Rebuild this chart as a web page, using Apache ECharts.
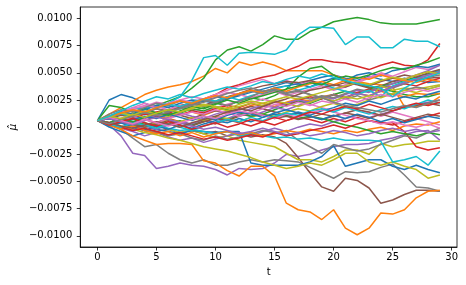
<!DOCTYPE html>
<html>
<head>
<meta charset="utf-8">
<script src="https://cdn.jsdelivr.net/npm/echarts@6/dist/echarts.min.js"></script>
<style>
html,body{margin:0;padding:0;background:#fff;}
#chart{width:466px;height:285px;}
</style>
</head>
<body>
<div id="chart"></div>
<script>
// time steps
const t = Array.from({length: 30}, (_, i) => i);
// values in units of 1e-4
const SCALE = 1e-4;
const s00 = [6,25,30,27,22,18,20,17,21,24,22,26,29,32,35,38,41,39,43,46,48,45,43,47,44,42,45,43,41,42];
const s01 = [6,12,18,24,30,34,37,39,42,47,54,50,60,57,60,57,52,52,52,52,48,44,42,40,39,37,19,19,21,28];
const s02 = [6,10,14,12,18,20,24,28,36,45,62,71,74,70,76,84,81,81,88,92,97,99,101,99,96,95,95,95,97,99];
const s03 = [6,4,8,10,12,14,16,20,22,26,30,36,39,43,46,48,52,56,62,62,60,59,56,53,57,60,57,56,62,77];
const s04 = [6,2,-8,-24,-26,-38,-36,-33,-35,-36,-39,-44,-38,-39,-38,-33,-25,-27,-25,-21,-18,-16,-16,-15,-12,-10,-7,-4,-3,-12];
const s05 = [6,4,0,2,-2,-4,-2,-5,-3,-6,-4,-8,-6,-9,-7,-9,-15,-28,-42,-55,-59,-47,-49,-56,-70,-67,-62,-58,-58,-59];
const s06 = [6,8,12,16,19,23,21,25,28,26,30,34,38,41,44,40,43,39,42,38,35,39,42,46,50,47,51,55,53,58];
const s07 = [6,3,-2,-10,-18,-16,-24,-30,-33,-30,-35,-35,-32,-30,-32,-30,-31,-32,-37,-42,-47,-41,-42,-41,-37,-34,-44,-55,-56,-59];
const s08 = [6,8,5,3,0,2,-2,-5,-3,-6,-10,-8,-12,-14,-16,-18,-24,-30,-30,-32,-27,-21,-21,-25,-15,-18,-16,-15,-13,-13];
const s09 = [6,8,14,18,17,20,22,28,43,64,66,57,68,69,68,67,71,85,92,92,91,76,83,83,73,73,81,79,79,74];
const s10 = [6,0,-4,-8,-5,-2,-4,-6,-3,-4,-5,-4,-4,-33,-35,-35,-35,-35,-32,-27,-17,-36,-33,-30,-30,-36,-39,-35,-39,-42];
const s11 = [6,2,-2,-8,-12,-16,-15,-15,-16,-31,-33,-40,-45,-36,-36,-45,-70,-76,-78,-85,-76,-93,-99,-93,-79,-80,-76,-65,-59,-58];
const s12 = [6,20,18,14,17,13,16,19,15,18,22,20,24,27,25,29,35,46,54,56,48,42,40,37,35,33,30,28,28,31];
const s13 = [6,9,6,10,7,4,8,5,2,6,3,7,4,1,5,2,6,9,7,4,8,5,9,6,4,4,-4,-18,-21,-19];
const s14 = [6,3,-1,-4,-8,-5,-9,-12,-10,-14,-11,-8,-5,-8,-4,-1,-4,0,3,1,5,8,11,9,12,15,18,21,23,25];
const s15 = [6,9,12,10,14,17,15,19,22,20,24,28,31,35,38,40,42,41,43,40,38,41,39,36,38,42,44,43,45,46];
const s16 = [6,10,14,18,22,19,16,20,17,14,18,21,24,22,26,23,20,24,21,18,15,19,16,13,10,14,11,8,5,2];
const s17 = [6,2,4,0,-3,-5,-8,-6,-10,-12,-8,-11,-9,-6,-3,-5,-4,-12,-18,-24,-16,-19,-22,-20,-16,-12,-8,-10,-5,-1];
const s18 = [6,4,1,-2,-5,-7,-10,-12,-15,-18,-20,-22,-25,-28,-32,-35,-38,-36,-33,-35,-30,-24,-24,-32,-35,-32,-36,-39,-47,-44];
const s19 = [6,8,5,4,1,2,-1,-3,-2,-4,-6,-4,-8,-6,-8,-10,-9,-11,-10,-12,-10,-12,-12,-12,-13,-32,-30,-27,-35,-22];
const s20 = [6,10,14,12,16,20,18,22,25,24,28,26,30,34,32,36,38,40,37,42,45,43,48,50,47,52,54,56,55,58];
const s21 = [6,3,7,9,6,10,8,12,14,11,15,18,16,20,22,19,23,26,24,28,30,27,31,29,33,30,28,31,30,31];
const s22 = [6,2,5,1,4,0,3,6,2,5,9,7,11,14,12,16,20,24,22,26,30,33,31,35,38,40,43,46,49,52];
const s23 = [6,9,5,8,12,10,14,11,15,13,17,20,18,22,19,24,21,25,28,26,30,27,32,35,33,37,40,38,42,45];
const s24 = [6,4,0,-3,1,-2,2,5,3,7,4,8,12,10,14,18,16,20,24,28,26,30,34,32,36,40,44,48,52,57];
const s25 = [6,8,11,9,6,10,13,11,8,12,15,13,16,19,17,14,11,13,10,7,10,13,11,8,12,9,6,9,12,10];
const s26 = [6,10,13,17,20,18,22,25,23,26,28,32,30,27,30,33,29,32,35,38,34,37,41,45,49,46,44,48,47,50];
const s27 = [6,12,16,14,18,22,20,24,21,25,23,27,30,33,31,34,30,28,26,29,27,31,35,33,38,36,40,44,46,48];
const s28 = [6,2,-1,3,0,4,7,5,9,6,10,8,5,9,12,10,14,17,15,19,22,18,21,25,38,34,36,35,37,39];
const s29 = [6,9,12,10,14,18,21,19,23,26,24,28,25,29,32,35,38,34,37,40,36,33,30,34,28,38,42,45,48,52];
const s30 = [6,1,4,0,-3,1,-2,2,-1,3,6,4,8,5,9,12,10,14,11,15,18,22,20,24,21,25,28,26,30,33];
const s31 = [6,2,-2,1,-3,-6,-4,-8,-5,-9,-6,-4,-7,-5,-8,-6,-3,-5,-2,-4,-6,-3,-5,-2,0,-3,1,3,2,5];
const s32 = [6,10,7,11,14,12,16,13,17,15,19,16,13,10,12,9,11,8,10,8,5,2,0,-3,-6,-4,-6,-8,-5,-7];
const s33 = [6,3,0,-3,-1,-4,-7,-5,-8,-11,-9,-12,-10,-7,-9,-5,-8,-6,-3,-1,2,-1,3,6,4,2,5,8,10,13];
const s34 = [6,9,7,4,8,11,9,13,10,8,12,15,13,17,20,18,22,25,23,27,24,28,31,29,33,37,41,44,48,51];
const s35 = [6,4,7,3,0,3,6,4,1,5,8,6,10,13,11,8,10,7,9,12,10,13,16,14,11,15,18,20,22,20];
const s36 = [6,3,6,10,7,4,8,11,14,12,16,13,10,14,11,8,12,9,13,16,14,11,8,6,3,5,2,0,3,-1];
const s37 = [6,9,12,15,13,17,14,18,21,19,23,20,24,28,33,35,32,34,30,27,30,26,29,25,28,31,34,37,35,38];
const s38 = [6,9,13,11,15,12,10,14,17,20,18,15,19,22,20,24,22,19,23,27,24,28,26,29,27,31,34,32,35,38];
const s39 = [6,3,0,4,2,-1,3,0,-3,1,4,7,5,9,6,10,13,11,15,17,14,18,15,12,16,19,17,21,25,22];
const s40 = [6,8,4,7,10,8,12,9,6,10,7,11,14,12,9,13,16,13,10,7,11,8,12,9,5,8,4,7,10,8];
const s41 = [6,10,13,16,14,18,21,24,22,26,29,27,31,34,32,36,33,37,40,42,39,43,46,44,48,45,43,41,44,42];
const s42 = [6,4,8,5,9,13,11,15,19,17,21,25,22,26,29,32,35,38,41,39,44,47,45,48,52,55,53,57,60,64];
const s43 = [6,2,5,8,4,1,5,2,-2,1,4,0,3,7,5,9,6,10,14,12,16,19,17,21,18,15,19,22,20,23];
const s44 = [6,8,5,2,6,9,7,4,1,-2,0,-3,-6,-4,-1,-4,-7,-5,-8,-6,-3,-5,-8,-6,-3,-1,-4,-2,-5,-3];
const s45 = [6,4,1,-1,2,5,3,0,4,7,10,14,17,15,19,23,26,30,34,36,39,37,41,38,42,45,48,46,50,53];
const s46 = [6,9,6,3,7,4,1,4,7,10,8,12,15,13,17,21,19,23,20,24,22,26,23,27,30,28,32,35,33,36];
const s47 = [6,3,7,10,13,11,14,17,20,23,27,31,34,36,33,35,31,33,30,27,23,20,18,16,14,17,20,18,22,25];
const s48 = [6,10,8,12,9,13,16,14,18,21,19,17,21,24,22,25,28,26,29,32,35,38,41,39,43,46,44,48,51,49];
const s49 = [6,10,15,20,24,28,26,30,27,31,34,37,35,38,42,40,44,47,45,49,46,43,40,38,36,28,36,42,46,50];

const allSeries = [s00,s01,s02,s03,s04,s05,s06,s07,s08,s09,s10,s11,s12,s13,s14,s15,s16,s17,s18,s19,
  s20,s21,s22,s23,s24,s25,s26,s27,s28,s29,s30,s31,s32,s33,s34,s35,s36,s37,s38,s39,
  s40,s41,s42,s43,s44,s45,s46,s47,s48,s49];

const xTicks = [0,5,10,15,20,25,30];
const yTicks = [-0.01,-0.0075,-0.005,-0.0025,0,0.0025,0.005,0.0075,0.01];
const palette = ['#1f77b4','#ff7f0e','#2ca02c','#d62728','#9467bd','#8c564b','#e377c2','#7f7f7f','#bcbd22','#17becf'];

allSeries.forEach((s, i) => { if (s.length !== t.length) throw new Error('series ' + i + ' has ' + s.length); });

const font = 'DejaVu Sans';
const chart = echarts.init(document.getElementById('chart'), null, {renderer: 'canvas'});
const series = allSeries.map((s, i) => ({
  type: 'line',
  data: s.map((v, k) => [t[k], v * SCALE]),
  showSymbol: false,
  symbol: 'none',
  lineStyle: {width: 1.5, color: palette[i % 10]},
  itemStyle: {color: palette[i % 10]},
  emphasis: {disabled: true},
  animation: false
}));

chart.setOption({
  animation: false,
  grid: {left: 78, right: 9, top: 7, bottom: 38, show: true, borderColor: '#000', borderWidth: 0.8, containLabel: false},
  xAxis: {
    type: 'value', min: -1.45, max: 30.45,
    name: 't', nameLocation: 'middle', nameGap: 20,
    nameTextStyle: {fontFamily: font, fontSize: 10, color: '#000'},
    axisLine: {show: true, onZero: false, lineStyle: {color: '#000', width: 0.8}},
    axisTick: {show: true, length: 3.5, customValues: xTicks, lineStyle: {color: '#000', width: 0.8}},
    axisLabel: {customValues: xTicks, margin: 5, fontFamily: font, fontSize: 10, color: '#000'},
    splitLine: {show: false}
  },
  yAxis: {
    type: 'value', min: -0.01103, max: 0.01106,
    name: '\u03bc\u0302', nameLocation: 'middle', nameGap: 57, nameRotate: 90,
    nameTextStyle: {fontFamily: font, fontSize: 10, color: '#000', fontStyle: 'italic'},
    axisLine: {show: true, onZero: false, lineStyle: {color: '#000', width: 0.8}},
    axisTick: {show: true, length: 3.5, customValues: yTicks, lineStyle: {color: '#000', width: 0.8}},
    axisLabel: {customValues: yTicks, margin: 8, fontFamily: font, fontSize: 10, color: '#000',
      formatter: v => (v < -1e-12 ? '\u2212' : '') + Math.abs(v).toFixed(4)},
    splitLine: {show: false}
  },
  series: series
});
</script>
</body>
</html>
